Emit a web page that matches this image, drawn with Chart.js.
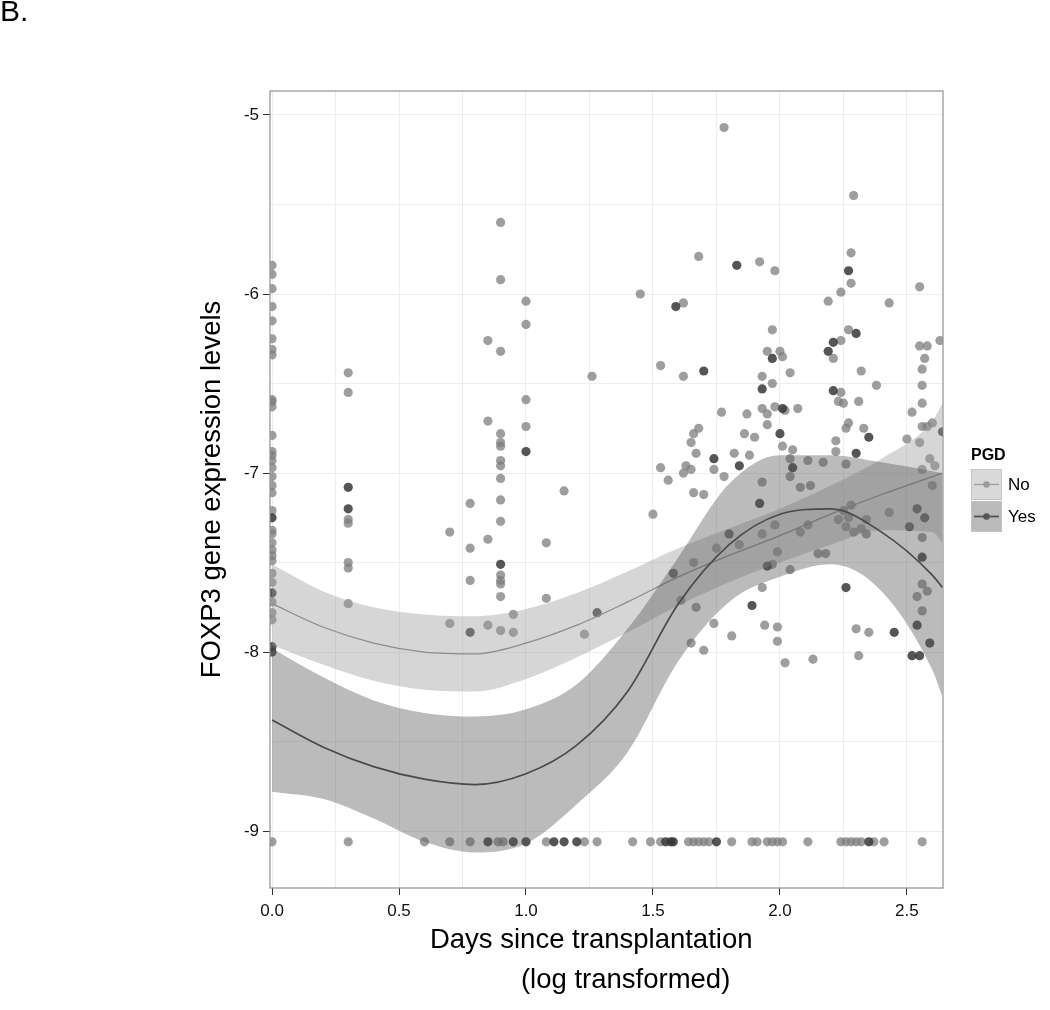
<!DOCTYPE html>
<html>
<head>
<meta charset="utf-8">
<script src="https://cdn.jsdelivr.net/npm/chart.js@4.4.1/dist/chart.umd.min.js"></script>
<style>
  body { margin: 0; background: #fff; }
  #wrap { position: relative; width: 1050px; height: 1010px; }
  #panelTag { position: absolute; left: 0; top: -6px; font: 30px "Liberation Sans", Arial, sans-serif; color: #000; }
</style>
</head>
<body>
<div id="wrap">
  <canvas id="chart" width="1050" height="1010"></canvas>
  <div id="panelTag">B.</div>
</div>
<script>
// puntos observados [x, y]
const noPts = [
  [0,-5.84],[0,-5.89],[0,-5.97],[0,-6.07],[0,-6.15],[0,-6.25],[0,-6.31],[0,-6.34],[0,-6.59],[0,-6.60],[0,-6.63],
  [0,-6.79],[0,-6.88],[0,-6.90],[0,-6.93],[0,-6.97],[0,-7.02],[0,-7.07],[0,-7.11],[0,-7.21],[0,-7.32],[0,-7.34],
  [0,-7.39],[0,-7.43],[0,-7.46],[0,-7.49],[0,-7.56],[0,-7.61],[0,-7.72],[0,-7.78],[0,-7.82],[0,-9.06],
  [0.30,-6.44],[0.30,-6.55],[0.30,-7.26],[0.30,-7.28],[0.30,-7.50],[0.30,-7.53],[0.30,-7.73],[0.30,-9.06],
  [0.60,-9.06],[0.70,-7.33],[0.70,-7.84],[0.70,-9.06],[0.78,-7.17],[0.78,-7.42],[0.78,-7.60],[0.78,-9.06],
  [0.85,-6.26],[0.85,-6.71],[0.85,-7.37],[0.85,-7.85],
  [0.90,-5.60],[0.90,-5.92],[0.90,-6.32],[0.90,-6.78],[0.90,-6.83],[0.90,-6.85],[0.90,-6.93],[0.90,-6.96],
  [0.90,-7.03],[0.90,-7.15],[0.90,-7.27],[0.90,-7.57],[0.90,-7.60],[0.90,-7.62],[0.90,-7.69],[0.90,-7.88],
  [0.89,-9.06],[0.91,-9.06],[0.95,-7.79],[0.95,-7.89],[1.0,-6.04],[1.0,-6.17],[1.0,-6.59],[1.0,-6.74],
  [1.08,-7.39],[1.08,-7.70],[1.08,-9.06],[1.15,-7.10],[1.23,-7.90],[1.23,-9.06],[1.26,-6.46],[1.28,-9.06],
  [1.42,-9.06],[1.45,-6.00],[1.49,-9.06],[1.50,-7.23],[1.53,-6.40],[1.53,-6.97],[1.53,-9.06],[1.56,-7.04],
  [1.61,-7.71],[1.62,-6.05],[1.62,-6.46],[1.62,-7.00],[1.63,-6.96],[1.64,-9.06],[1.65,-6.83],[1.65,-6.98],
  [1.65,-7.95],[1.66,-6.78],[1.66,-7.11],[1.66,-7.50],[1.66,-9.06],[1.67,-6.89],[1.67,-7.75],[1.68,-5.79],
  [1.68,-6.75],[1.68,-9.06],[1.70,-7.12],[1.70,-7.99],[1.70,-9.06],[1.72,-9.06],[1.74,-7.84],[1.74,-6.98],
  [1.75,-7.42],[1.77,-6.66],[1.78,-5.07],[1.78,-7.02],[1.81,-7.91],[1.81,-9.06],[1.82,-6.89],[1.84,-7.40],
  [1.86,-6.78],[1.87,-6.67],[1.88,-6.90],[1.89,-9.06],[1.90,-6.80],[1.91,-9.06],[1.92,-5.82],[1.93,-6.46],
  [1.93,-6.64],[1.93,-7.05],[1.93,-7.64],[1.93,-7.34],[1.94,-7.85],[1.95,-9.06],[1.95,-6.32],[1.95,-6.67],
  [1.95,-6.73],[1.97,-7.51],[1.97,-6.20],[1.97,-6.50],[1.97,-9.06],[1.98,-6.63],[1.98,-5.87],[1.98,-7.29],
  [1.99,-9.06],[1.99,-7.44],[1.99,-7.86],[1.99,-7.94],[2.00,-6.32],[2.01,-6.35],[2.01,-6.85],[2.01,-9.06],
  [2.02,-6.65],[2.02,-8.06],[2.04,-6.44],[2.04,-6.92],[2.04,-7.02],[2.04,-7.54],[2.05,-6.87],[2.07,-6.64],
  [2.08,-7.33],[2.08,-7.08],[2.11,-9.06],[2.11,-6.93],[2.11,-7.29],[2.12,-7.07],[2.13,-8.04],[2.15,-7.45],
  [2.17,-6.94],[2.18,-7.45],[2.19,-6.04],[2.21,-6.36],[2.22,-6.82],[2.22,-6.88],[2.23,-7.26],[2.23,-6.60],
  [2.24,-5.99],[2.24,-6.26],[2.24,-6.55],[2.24,-9.06],[2.25,-6.61],[2.25,-7.21],[2.26,-6.95],[2.26,-7.30],
  [2.26,-6.75],[2.26,-9.06],[2.27,-7.25],[2.27,-6.72],[2.27,-6.20],[2.28,-5.77],[2.28,-5.94],[2.28,-7.18],
  [2.28,-9.06],[2.29,-7.33],[2.29,-5.45],[2.30,-7.87],[2.30,-9.06],[2.31,-6.60],[2.31,-8.02],[2.32,-7.31],
  [2.32,-9.06],[2.32,-6.43],[2.33,-6.75],[2.34,-7.34],[2.34,-7.26],[2.35,-7.89],[2.37,-9.06],[2.38,-6.51],
  [2.41,-9.06],[2.43,-6.05],[2.43,-7.22],[2.50,-6.81],[2.52,-6.66],[2.54,-7.69],[2.55,-5.96],[2.55,-6.29],
  [2.56,-6.74],[2.55,-6.83],[2.56,-6.42],[2.56,-6.51],[2.56,-9.06],[2.56,-7.77],[2.56,-6.61],[2.56,-6.98],
  [2.56,-7.36],[2.56,-7.62],[2.57,-6.36],[2.58,-6.74],[2.58,-7.66],[2.58,-6.29],[2.59,-6.92],[2.60,-6.72],
  [2.60,-7.07],[2.61,-6.96],[2.63,-6.26]
];
const yesPts = [
  [0,-7.25],[0,-7.67],[0,-7.97],[0,-8.00],[0.30,-7.08],[0.30,-7.20],[0.78,-7.89],[0.85,-9.06],[0.90,-7.51],
  [0.95,-9.06],[1.0,-6.88],[1.0,-9.06],[1.11,-9.06],[1.15,-9.06],[1.20,-9.06],[1.28,-7.78],[1.55,-9.06],
  [1.57,-9.06],[1.58,-9.06],[1.58,-7.56],[1.59,-6.07],[1.70,-6.43],[1.74,-6.92],[1.75,-9.06],[1.80,-7.34],
  [1.83,-5.84],[1.84,-6.96],[1.89,-7.74],[1.92,-7.17],[1.93,-6.53],[1.97,-6.36],[1.95,-7.52],[2.00,-6.78],
  [2.01,-6.64],[2.05,-6.97],[2.19,-6.32],[2.21,-6.54],[2.21,-6.27],[2.26,-7.64],[2.27,-5.87],[2.30,-6.22],
  [2.30,-6.89],[2.35,-9.06],[2.35,-6.80],[2.45,-7.89],[2.51,-7.30],[2.52,-8.02],[2.54,-7.20],[2.54,-7.85],
  [2.55,-8.02],[2.56,-7.47],[2.57,-7.25],[2.59,-7.95],[2.64,-6.77]
];

// curvas suavizadas (loess) y bandas de confianza
const fitX  = [0, 0.2, 0.4, 0.6, 0.8, 1.0, 1.2, 1.4, 1.6, 1.8, 2.0, 2.2, 2.4, 2.6, 2.64];
const noFit = [-7.73,-7.86,-7.95,-8.00,-8.01,-7.95,-7.85,-7.72,-7.58,-7.46,-7.35,-7.23,-7.12,-7.02,-7.00];
const noHi  = [-7.51,-7.66,-7.75,-7.79,-7.80,-7.76,-7.67,-7.55,-7.42,-7.31,-7.20,-7.07,-6.92,-6.71,-6.61];
const noLo  = [-7.96,-8.07,-8.16,-8.21,-8.22,-8.15,-8.03,-7.89,-7.74,-7.61,-7.50,-7.40,-7.32,-7.33,-7.39];
const yesFit = [-8.38,-8.53,-8.64,-8.71,-8.74,-8.68,-8.52,-8.22,-7.73,-7.40,-7.23,-7.20,-7.33,-7.57,-7.64];
const yesHi  = [-7.98,-8.14,-8.27,-8.34,-8.36,-8.32,-8.18,-7.87,-7.47,-7.06,-6.90,-6.90,-6.94,-6.99,-7.00];
const yesLo  = [-8.78,-8.82,-8.93,-9.06,-9.12,-9.07,-8.85,-8.56,-8.05,-7.72,-7.58,-7.51,-7.66,-8.10,-8.25];

const xTickLabels = ['0.0', '0.5', '1.0', '1.5', '2.0', '2.5'];
const yTickLabels = ['-9', '-8', '-7', '-6', '-5'];
const legendTitle = 'PGD';
const legendItems = [
  { label: 'No',  box: '#d9d9d9', line: '#9a9a9a' },
  { label: 'Yes', box: '#bababa', line: '#555555' }
];

const FONT = '"Liberation Sans", Arial, sans-serif';
const toXY = arr => arr.map(p => ({ x: p[0], y: p[1] }));
const curve = ys => fitX.map((x, i) => ({ x: x, y: ys[i] }));

function band(label, ys, fill, color, order) {
  return {
    type: 'line', label: label, data: curve(ys), fill: fill,
    backgroundColor: color, borderWidth: 0, pointRadius: 0,
    showLine: true, cubicInterpolationMode: 'monotone', order: order, clip: 0
  };
}
function fitLine(label, ys, color, width, order) {
  return {
    type: 'line', label: label, data: curve(ys), fill: false,
    borderColor: color, borderWidth: width, pointRadius: 0,
    showLine: true, cubicInterpolationMode: 'monotone', order: order, clip: 0
  };
}

// borde del panel y leyenda dibujados a mano
const panelPlugin = {
  id: 'panelPlugin',
  afterDraw(chart) {
    const ctx = chart.ctx;
    const a = chart.chartArea;
    ctx.save();
    ctx.strokeStyle = '#8f8f8f';
    ctx.lineWidth = 1.2;
    ctx.strokeRect(a.left, a.top, a.right - a.left, a.bottom - a.top);

    ctx.font = 'bold 16px ' + FONT;
    ctx.fillStyle = '#000';
    ctx.textBaseline = 'middle';
    ctx.fillText(legendTitle, 971, 456);
    legendItems.forEach((it, i) => {
      const y = 469 + i * 32;
      ctx.fillStyle = it.box;
      ctx.fillRect(971, y, 31, 31);
      ctx.strokeStyle = '#c4c4c4';
      ctx.lineWidth = 1;
      ctx.strokeRect(971.5, y + 0.5, 30, 30);
      ctx.strokeStyle = it.line;
      ctx.lineWidth = i === 0 ? 1.2 : 1.8;
      ctx.beginPath();
      ctx.moveTo(974, y + 15.5);
      ctx.lineTo(999, y + 15.5);
      ctx.stroke();
      ctx.fillStyle = it.line;
      ctx.beginPath();
      ctx.arc(986.5, y + 15.5, 3.3, 0, Math.PI * 2);
      ctx.fill();
      ctx.fillStyle = '#000';
      ctx.font = '17px ' + FONT;
      ctx.fillText(it.label, 1008, y + 16);
    });
    ctx.restore();
  }
};

const ctx = document.getElementById('chart').getContext('2d');
new Chart(ctx, {
  type: 'scatter',
  data: {
    datasets: [
      { label: 'No', data: toXY(noPts), backgroundColor: 'rgba(125,125,125,0.75)', borderWidth: 0,
        pointRadius: 4.6, order: 20, clip: 0 },
      { label: 'Yes', data: toXY(yesPts), backgroundColor: 'rgba(55,55,55,0.85)', borderWidth: 0,
        pointRadius: 4.6, order: 19, clip: 0 },
      band('No hi', noHi, '+1', 'rgba(153,153,153,0.4)', 10),
      band('No lo', noLo, false, 'rgba(0,0,0,0)', 10),
      fitLine('No fit', noFit, '#8c8c8c', 1.3, 9),
      band('Yes hi', yesHi, '+1', 'rgba(85,85,85,0.4)', 8),
      band('Yes lo', yesLo, false, 'rgba(0,0,0,0)', 8),
      fitLine('Yes fit', yesFit, '#4a4a4a', 1.7, 7)
    ]
  },
  options: {
    responsive: false,
    animation: false,
    layout: { padding: { left: 190, right: 107, top: 91, bottom: 0 } },
    plugins: {
      legend: { display: false },
      tooltip: { enabled: false },
      filler: { drawTime: 'beforeDatasetDraw' }
    },
    scales: {
      x: {
        type: 'linear', min: -0.008, max: 2.642,
        afterFit: s => { s.height = 122; },
        border: { display: false },
        grid: {
          color: '#ededed', lineWidth: 1, tickLength: 7,
          tickColor: c => (Math.abs(c.tick.value * 2 - Math.round(c.tick.value * 2)) < 1e-6 ? '#333' : 'rgba(0,0,0,0)')
        },
        ticks: {
          stepSize: 0.25, includeBounds: false, autoSkip: false, maxRotation: 0, padding: 6,
          color: '#111', font: { size: 17, family: FONT },
          callback: v => {
            const k = Math.round(v * 2);
            return Math.abs(v * 2 - k) < 1e-6 ? xTickLabels[k] : '';
          }
        },
        title: {
          display: true,
          text: ['Days since transplantation    ', '     (log transformed)'],
          color: '#000', font: { size: 27.5, family: FONT, lineHeight: 1.45 },
          padding: { top: 0, bottom: 10 }
        }
      },
      y: {
        min: -9.318, max: -4.866,
        afterFit: s => { s.width = 80; },
        border: { display: false },
        grid: {
          color: '#ededed', lineWidth: 1, tickLength: 7,
          tickColor: c => (Math.abs(c.tick.value - Math.round(c.tick.value)) < 1e-6 ? '#333' : 'rgba(0,0,0,0)')
        },
        ticks: {
          stepSize: 0.5, includeBounds: false, autoSkip: false, padding: 4,
          color: '#111', font: { size: 17, family: FONT },
          callback: v => {
            const k = Math.round(v);
            return Math.abs(v - k) < 1e-6 ? yTickLabels[k + 9] : '';
          }
        },
        title: {
          display: true, text: 'FOXP3 gene expression levels',
          color: '#000', font: { size: 27.5, family: FONT },
          padding: { top: 6, bottom: 0 }
        }
      }
    }
  },
  plugins: [panelPlugin]
});
</script>
</body>
</html>
